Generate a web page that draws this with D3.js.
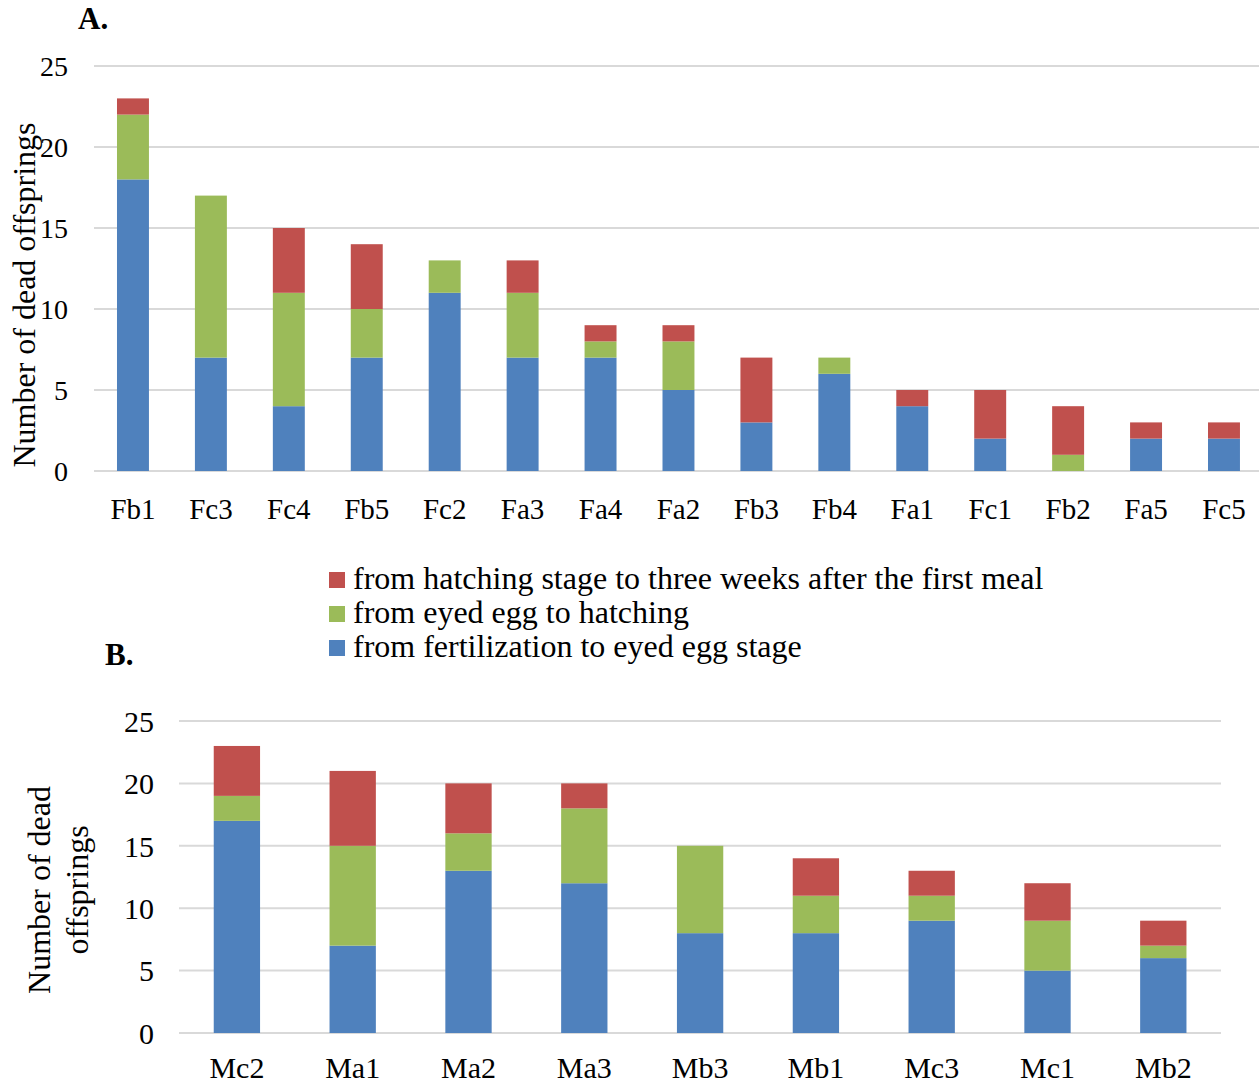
<html>
<head>
<script src="https://cdn.jsdelivr.net/npm/d3@7"></script>
<style>
  body { margin: 0; background: #fff; }
  text { font-family: "Liberation Serif", "Times New Roman", serif; fill: #000; }
</style>
</head>
<body>
<script>
// stage names, bottom to top of each stack
var stages = ["fert", "eyed", "hatch"];
var stageColors = ["#4f81bd", "#9bbb59", "#c0504d"];
var legendLabels = [
  "from hatching stage to three weeks after the first meal",
  "from eyed egg to hatching",
  "from fertilization to eyed egg stage"
];
var legendColors = ["#c0504d", "#9bbb59", "#4f81bd"];

// panel A - females
var femaleNames = ["Fb1", "Fc3", "Fc4", "Fb5", "Fc2", "Fa3", "Fa4", "Fa2", "Fb3", "Fb4", "Fa1", "Fc1", "Fb2", "Fa5", "Fc5"];
var femaleFert  = [18, 7, 4, 7, 11, 7, 7, 5, 3, 6, 4, 2, 0, 2, 2];
var femaleEyed  = [4, 10, 7, 3, 2, 4, 1, 3, 0, 1, 0, 0, 1, 0, 0];
var femaleHatch = [1, 0, 4, 4, 0, 2, 1, 1, 4, 0, 1, 3, 3, 1, 1];

// panel B - males
var maleNames = ["Mc2", "Ma1", "Ma2", "Ma3", "Mb3", "Mb1", "Mc3", "Mc1", "Mb2"];
var maleFert  = [17, 7, 13, 12, 8, 8, 9, 5, 6];
var maleEyed  = [2, 8, 3, 6, 7, 3, 2, 4, 1];
var maleHatch = [4, 6, 4, 2, 0, 3, 2, 3, 2];

var yTicks = [0, 5, 10, 15, 20, 25];

var svg = d3.select("body").append("svg")
  .attr("width", 1259)
  .attr("height", 1085);

function buildRows(names, a, b, c) {
  return names.map(function(n, i) {
    return { name: n, fert: a[i], eyed: b[i], hatch: c[i] };
  });
}

function drawPanel(opts) {
  var rows = buildRows(opts.names, opts.fert, opts.eyed, opts.hatch);

  var x = d3.scaleBand()
    .domain(opts.names)
    .range([opts.left, opts.left + opts.step * opts.names.length])
    .paddingInner(opts.pad)
    .paddingOuter(opts.pad / 2);

  var y = d3.scaleLinear().domain([0, 25]).range([opts.bottom, opts.top]);

  // gridlines
  svg.append("g").selectAll("line")
    .data(yTicks)
    .enter().append("line")
    .attr("x1", opts.left)
    .attr("x2", opts.gridRight)
    .attr("y1", function(d) { return y(d); })
    .attr("y2", function(d) { return y(d); })
    .attr("stroke", "#d9d9d9")
    .attr("stroke-width", 2);

  // y tick labels
  var yAxis = svg.append("g")
    .attr("transform", "translate(" + opts.tickRight + ",0)")
    .call(d3.axisLeft(y).tickValues(yTicks).tickSize(0).tickPadding(0));
  yAxis.select(".domain").remove();
  yAxis.selectAll("text")
    .style("font-family", "Liberation Serif")
    .style("font-size", opts.tickFont)
    .attr("fill", "#000")
    .attr("dy", "0.34em");

  // stacked bars
  var series = d3.stack().keys(stages)(rows);
  svg.append("g").selectAll("g")
    .data(series)
    .enter().append("g")
    .attr("fill", function(d, i) { return stageColors[i]; })
    .selectAll("rect")
    .data(function(d) { return d.filter(function(s) { return s[1] - s[0] > 0; }); })
    .enter().append("rect")
    .attr("x", function(d) { return x(d.data.name); })
    .attr("width", x.bandwidth())
    .attr("y", function(d) { return y(d[1]); })
    .attr("height", function(d) { return y(d[0]) - y(d[1]); });

  // x labels
  var xAxis = svg.append("g")
    .attr("transform", "translate(0," + opts.bottom + ")")
    .call(d3.axisBottom(x).tickSize(0).tickPadding(0));
  xAxis.select(".domain").remove();
  xAxis.selectAll("text")
    .style("font-family", "Liberation Serif")
    .style("font-size", opts.labelFont)
    .attr("fill", "#000")
    .attr("y", opts.labelDrop)
    .attr("dy", 0);
}

drawPanel({
  names: femaleNames, fert: femaleFert, eyed: femaleEyed, hatch: femaleHatch,
  left: 94, step: 77.93, pad: 0.59, gridRight: 1259,
  top: 66, bottom: 471, tickRight: 68, labelDrop: 48,
  tickFont: "28px", labelFont: "29px"
});

drawPanel({
  names: maleNames, fert: maleFert, eyed: maleEyed, hatch: maleHatch,
  left: 179, step: 115.8, pad: 0.6, gridRight: 1221,
  top: 721, bottom: 1033, tickRight: 154, labelDrop: 45,
  tickFont: "30px", labelFont: "30px"
});

// panel letters
svg.append("text").attr("x", 78).attr("y", 29)
  .style("font-size", "31px").style("font-weight", "bold").text("A.");
svg.append("text").attr("x", 105).attr("y", 665)
  .style("font-size", "31px").style("font-weight", "bold").text("B.");

// y axis titles
svg.append("text")
  .attr("transform", "translate(35,295) rotate(-90)")
  .attr("text-anchor", "middle")
  .style("font-size", "32px")
  .text("Number of dead offsprings");

var titleB = svg.append("text")
  .attr("transform", "translate(50,890) rotate(-90)")
  .attr("text-anchor", "middle")
  .style("font-size", "32px");
titleB.append("tspan").attr("x", 0).attr("dy", 0).text("Number of dead");
titleB.append("tspan").attr("x", 0).attr("dy", 38).text("offsprings");

// legend
var legend = svg.append("g").selectAll("g")
  .data(legendLabels)
  .enter().append("g")
  .attr("transform", function(d, i) { return "translate(329," + (572 + i * 34) + ")"; });
legend.append("rect")
  .attr("width", 16).attr("height", 16)
  .attr("fill", function(d, i) { return legendColors[i]; });
legend.append("text")
  .attr("x", 24).attr("y", 17)
  .style("font-size", "32px")
  .text(function(d) { return d; });
</script>
</body>
</html>
